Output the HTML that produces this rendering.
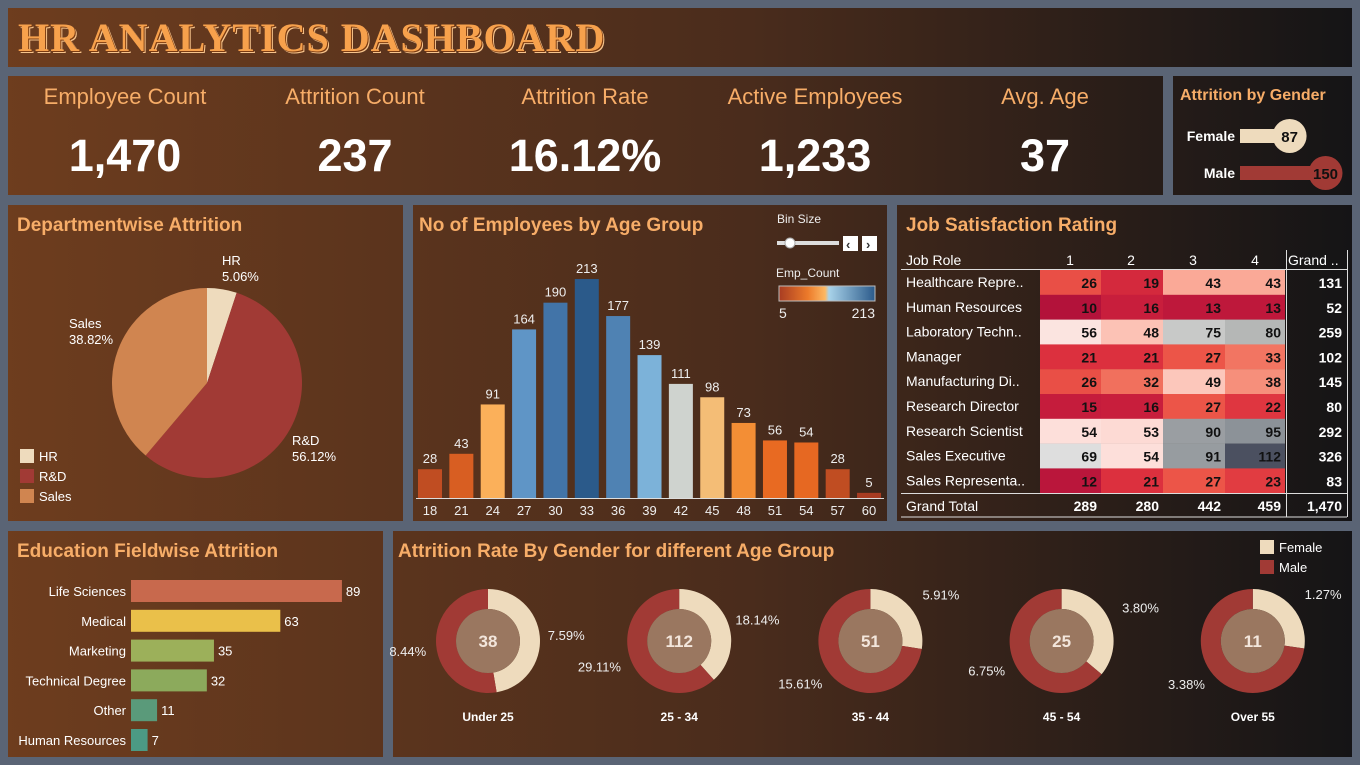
<!DOCTYPE html>
<html><head><meta charset="utf-8">
<style>
*{box-sizing:border-box;margin:0;padding:0}
body{width:1360px;height:765px;background:#5a6475;font-family:"Liberation Sans",sans-serif;position:relative;overflow:hidden}
.p{position:absolute;background:linear-gradient(90deg,#6e3d1e 0%,#4a2c1c 55%,#141416 100%);background-attachment:fixed;background-size:1360px 765px}
.t{position:absolute;color:#f7ad68;font-weight:bold;font-size:19px;left:9px;top:10px}
svg{position:absolute;left:0;top:0}
.kl{position:absolute;top:84px;width:230px;text-align:center;color:#f7ad68;font-size:22px}
.kv{position:absolute;top:130px;width:230px;text-align:center;color:#fff;font-size:45px;font-weight:bold}
</style></head><body>
<div class="p" style="left:8px;top:8px;width:1344px;height:59px">
<div style="position:absolute;left:10px;top:6px;font-family:'Liberation Serif',serif;font-weight:bold;font-size:40px;color:#f7a14c;letter-spacing:1px;text-shadow:1px 1px 0 #7a3a10,2px 2px 0 #f7c48c">HR ANALYTICS DASHBOARD</div>
</div>
<div class="p" style="left:8px;top:76px;width:1155px;height:119px"></div>
<div class="kl" style="left:10px">Employee Count</div>
<div class="kv" style="left:10px">1,470</div>
<div class="kl" style="left:240px">Attrition Count</div>
<div class="kv" style="left:240px">237</div>
<div class="kl" style="left:470px">Attrition Rate</div>
<div class="kv" style="left:470px">16.12%</div>
<div class="kl" style="left:700px">Active Employees</div>
<div class="kv" style="left:700px">1,233</div>
<div class="kl" style="left:930px">Avg. Age</div>
<div class="kv" style="left:930px">37</div>

<div class="p" style="left:1173px;top:76px;width:179px;height:119px"><div class="t" style="font-size:16px;left:7px;top:11px">Attrition by Gender</div></div>
<div class="p" style="left:8px;top:205px;width:395px;height:316px"><div class="t">Departmentwise Attrition</div></div>
<div class="p" style="left:413px;top:205px;width:474px;height:316px"><div class="t" style="left:6px">No of Employees by Age Group</div></div>
<div class="p" style="left:897px;top:205px;width:455px;height:316px"><div class="t">Job Satisfaction Rating</div></div>
<div class="p" style="left:8px;top:531px;width:375px;height:226px"><div class="t">Education Fieldwise Attrition</div></div>
<div class="p" style="left:393px;top:531px;width:959px;height:226px"><div class="t" style="left:5px">Attrition Rate By Gender for different Age Group</div></div>

<svg id="s" width="1360" height="765" font-family="Liberation Sans, sans-serif">
<defs><linearGradient id="lg" x1="0" x2="1"><stop offset="0" stop-color="#a83c22"/><stop offset="0.3" stop-color="#ec7a2a"/><stop offset="0.48" stop-color="#fdb862"/><stop offset="0.52" stop-color="#a9d3ea"/><stop offset="1" stop-color="#2b5a8a"/></linearGradient></defs>
<g>
<text x="777" y="223" fill="#eee" font-size="12">Bin Size</text>
<rect x="777" y="241" width="62" height="4" fill="#ddd"/>
<circle cx="790" cy="243" r="5" fill="#fff" stroke="#aaa"/>
<rect x="843" y="236" width="15" height="15" fill="#fff"/><text x="846" y="249" font-size="13" font-weight="bold" fill="#333">‹</text>
<rect x="862" y="236" width="15" height="15" fill="#fff"/><text x="866" y="249" font-size="13" font-weight="bold" fill="#333">›</text>
</g>
<g>
<text x="776" y="277" fill="#eee" font-size="12">Emp_Count</text>
<rect x="779" y="286" width="96" height="15" fill="url(#lg)" stroke="#bbb"/>
<text x="779" y="318" fill="#eee" font-size="14">5</text><text x="875" y="318" fill="#eee" font-size="14" text-anchor="end">213</text>
</g>
</svg>
<script>
const NS='http://www.w3.org/2000/svg';const S=document.getElementById('s');
function E(t,a,p,txt){const e=document.createElementNS(NS,t);for(const k in a)e.setAttribute(k,a[k]);if(txt!==undefined)e.textContent=txt;(p||S).appendChild(e);return e;}

// ---- Gender ----
const genders=['Female','Male'];
const genderValues=[87,150];
const gColors=['#eedbbd','#a13a35'];
genders.forEach((g,i)=>{const y=136+i*37;const len=genderValues[i]*0.57;
const gr=E('g',{});
E('text',{x:1235,y:y+5,'text-anchor':'end',fill:'#fff','font-size':14,'font-weight':'bold'},gr,g);
E('rect',{x:1240,y:y-7,width:len,height:14,fill:gColors[i]},gr);
E('circle',{cx:1240+len,cy:y,r:17,fill:gColors[i]},gr);
E('text',{x:1240+len,y:y+6,'text-anchor':'middle',fill:'#111','font-size':15,'font-weight':'bold'},gr,genderValues[i]);});

// ---- Department pie ----
const depts=['HR','R&D','Sales'];
const deptPct=[5.06,56.12,38.82];
const dColors=['#eedbbd','#a13a35','#d08550'];
const pcx=207,pcy=383,pr=95;let a0=0;
const lblPos=[[222,265],[292,445],[69,328]];
depts.forEach((d,i)=>{const a1=a0+deptPct[i]/100*2*Math.PI;
const x0=pcx+pr*Math.sin(a0),y0=pcy-pr*Math.cos(a0),x1=pcx+pr*Math.sin(a1),y1=pcy-pr*Math.cos(a1);
const p=E('path',{d:`M${pcx},${pcy}L${x0},${y0}A${pr},${pr} 0 ${a1-a0>Math.PI?1:0} 1 ${x1},${y1}Z`,fill:dColors[i]});

const t=E('text',{x:lblPos[i][0],y:lblPos[i][1],fill:'#fff','font-size':13});
E('tspan',{x:lblPos[i][0]},t,d);E('tspan',{x:lblPos[i][0],dy:16},t,deptPct[i].toFixed(2)+'%');
const lg=E('g',{});
E('rect',{x:20,y:449+i*20,width:14,height:14,fill:dColors[i]},lg);E('text',{x:39,y:461+i*20,fill:'#fff','font-size':13},lg,d);
a0=a1;});

// ---- Age bars ----
const ageBins=['18','21','24','27','30','33','36','39','42','45','48','51','54','57','60'];
const ageCounts=[28,43,91,164,190,213,177,139,111,98,73,56,54,28,5];
const stops=[[5,'#a83c22'],[28,'#c04d22'],[43,'#d85e22'],[56,'#e86a22'],[73,'#f38e35'],[95,'#fdb862'],[111,'#cfd3cf'],[139,'#7cb2d9'],[164,'#5f95c6'],[177,'#4f82b3'],[190,'#4274a8'],[213,'#2b5a8a']];
function hx(c){return[1,3,5].map(i=>parseInt(c.substr(i,2),16));}
function cscale(v,st){if(v<=st[0][0])return st[0][1];for(let i=1;i<st.length;i++){if(v<=st[i][0]){const t=(v-st[i-1][0])/(st[i][0]-st[i-1][0]);const a=hx(st[i-1][1]),b=hx(st[i][1]);return'rgb('+a.map((x,j)=>Math.round(x+(b[j]-x)*t)).join(',')+')';}}return st[st.length-1][1];}
const ax=i=>430+i*31.36, ay=v=>498-v*1.028;
E('line',{x1:416,x2:884,y1:498.5,y2:498.5,stroke:'#ddd'});
ageBins.forEach((b,i)=>{const r=E('rect',{x:ax(i)-12,y:ay(ageCounts[i]),width:24,height:498-ay(ageCounts[i]),fill:cscale(ageCounts[i],stops)});

E('text',{x:ax(i),y:ay(ageCounts[i])-6,'text-anchor':'middle',fill:'#eee','font-size':13},null,ageCounts[i]);
E('text',{x:ax(i),y:515,'text-anchor':'middle',fill:'#eee','font-size':13},null,b);});

// ---- Job satisfaction table ----
const roles=['Healthcare Repre..','Human Resources','Laboratory Techn..','Manager','Manufacturing Di..','Research Director','Research Scientist','Sales Executive','Sales Representa..'];
const rating1=[26,10,56,21,26,15,54,69,12];
const rating2=[19,16,48,21,32,16,53,54,21];
const rating3=[43,13,75,27,49,27,90,91,27];
const rating4=[43,13,80,33,38,22,95,112,23];
const colTotals=['289','280','442','459'];
const rowTotals=['131','52','259','102','145','80','292','326','83'];
const grandTotal='1,470';
const hstops=[[10,'#b3123a'],[16,'#c81e3c'],[21,'#dc303e'],[27,'#ec5548'],[35,'#f4806a'],[45,'#fcb3a2'],[55,'#fde4e0'],[69,'#dedede'],[80,'#b5b7b6'],[95,'#8c9298'],[112,'#4b5060']];
const cols=[rating1,rating2,rating3,rating4];const cx0=[1040,1101,1163,1225],cw=[61,62,62,60];
const ry=i=>270+i*24.8;
const th=E('g',{});
E('text',{x:906,y:265,fill:'#fff','font-size':14},th,'Job Role');
['1','2','3','4'].forEach((c,j)=>E('text',{x:cx0[j]+30,y:265,fill:'#fff','font-size':14,'text-anchor':'middle'},th,c));
E('text',{x:1288,y:265,fill:'#fff','font-size':14},th,'Grand ..');
E('line',{x1:901,x2:1347,y1:269.5,y2:269.5,stroke:'#ddd'});
E('line',{x1:1286.5,x2:1286.5,y1:250,y2:517,stroke:'#ddd'});
E('line',{x1:1347.5,x2:1347.5,y1:250,y2:517,stroke:'#ddd'});
roles.forEach((r,i)=>{const y=ry(i);
E('text',{x:906,y:y+17,fill:'#fff','font-size':14},null,r);
cols.forEach((c,j)=>{const rc=E('rect',{x:cx0[j],y:y,width:cw[j],height:25,fill:cscale(c[i],hstops)});

E('text',{x:cx0[j]+cw[j]-4,y:y+18,fill:'#111','font-size':14,'font-weight':'bold','text-anchor':'end'},null,c[i]);});
E('text',{x:1342,y:y+18,fill:'#fff','font-size':14,'font-weight':'bold','text-anchor':'end'},null,rowTotals[i]);});
E('line',{x1:901,x2:1347,y1:493.5,y2:493.5,stroke:'#ddd'});
E('line',{x1:901,x2:1347,y1:517,y2:517,stroke:'#ddd'});
E('text',{x:906,y:511,fill:'#fff','font-size':14},null,'Grand Total');
colTotals.forEach((t,j)=>E('text',{x:cx0[j]+cw[j]-4,y:511,fill:'#fff','font-size':14,'font-weight':'bold','text-anchor':'end'},null,t));
E('text',{x:1342,y:511,fill:'#fff','font-size':14,'font-weight':'bold','text-anchor':'end'},null,grandTotal);

// ---- Education bars ----
const fields=['Life Sciences','Medical','Marketing','Technical Degree','Other','Human Resources'];
const fieldValues=[89,63,35,32,11,7];
const fColors=['#c8694d','#eac04a','#9cb05a','#8caa5c','#5a9a7a','#4c9a84'];
fields.forEach((f,i)=>{const y=591+i*29.8;const w=fieldValues[i]*2.37;
const r=E('rect',{x:131,y:y-11,width:w,height:22,fill:fColors[i]});
E('text',{x:126,y:y+5,'text-anchor':'end',fill:'#fff','font-size':13},null,f);
E('text',{x:131+w+4,y:y+5,fill:'#fff','font-size':13},null,fieldValues[i]);});

// ---- Donuts ----
const ageGroups=['Under 25','25 - 34','35 - 44','45 - 54','Over 55'];
const femalePct=[7.59,18.14,5.91,3.80,1.27];
const malePct=[8.44,29.11,15.61,6.75,3.38];
const groupTotals=[38,112,51,25,11];
const lgd=E('g',{});
E('rect',{x:1260,y:540,width:14,height:14,fill:'#eedbbd'},lgd);E('text',{x:1279,y:552,fill:'#fff','font-size':13},lgd,'Female');
E('rect',{x:1260,y:560,width:14,height:14,fill:'#a13a35'},lgd);E('text',{x:1279,y:572,fill:'#fff','font-size':13},lgd,'Male');
function arc(cx,cy,R,r,a0,a1){const p=(rad,a)=>[cx+rad*Math.sin(a),cy-rad*Math.cos(a)];const L=a1-a0>Math.PI?1:0;
const [x0,y0]=p(R,a0),[x1,y1]=p(R,a1),[x2,y2]=p(r,a1),[x3,y3]=p(r,a0);
return `M${x0},${y0}A${R},${R} 0 ${L} 1 ${x1},${y1}L${x2},${y2}A${r},${r} 0 ${L} 0 ${x3},${y3}Z`;}
ageGroups.forEach((g,i)=>{const cx=488+i*191.2,cy=641;const fr=femalePct[i]/(femalePct[i]+malePct[i]);const fa=fr*2*Math.PI;
const dg=E('g',{});
E('path',{d:arc(cx,cy,52,32,0,fa),fill:'#eedbbd'},dg);
E('path',{d:arc(cx,cy,52,32,fa,2*Math.PI-0.0001),fill:'#a13a35'},dg);
E('circle',{cx:cx,cy:cy,r:32,fill:'#9a7760'},dg);
E('text',{x:cx,y:cy+6,'text-anchor':'middle',fill:'#f3e6dc','font-size':17,'font-weight':'bold'},dg,groupTotals[i]);
const fm=fa/2;E('text',{x:cx+Math.sin(fm)*58+(fm>1.2?2:8),y:cy-Math.cos(fm)*58+(fm>1.2?4:-4),fill:'#eee','font-size':13},dg,femalePct[i].toFixed(2)+'%');
const mm=(fa+2*Math.PI)/2;E('text',{x:cx+Math.sin(mm)*58-4,y:cy-Math.cos(mm)*58+10,'text-anchor':'end',fill:'#eee','font-size':13},dg,malePct[i].toFixed(2)+'%');
E('text',{x:cx,y:721,'text-anchor':'middle',fill:'#fff','font-size':12,'font-weight':'bold'},dg,g);});
</script>
</body></html>
